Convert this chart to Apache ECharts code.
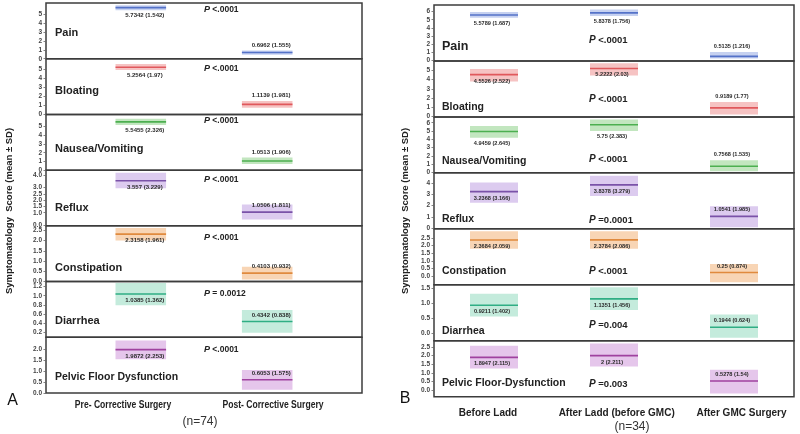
<!DOCTYPE html>
<html><head><meta charset="utf-8">
<script src="https://cdn.jsdelivr.net/npm/echarts@6/dist/echarts.min.js"></script>
<style>html,body{margin:0;padding:0;background:#fff}#c{width:800px;height:434px}</style>
</head><body><div id="c"></div>
<script>
// ---------- Panel A data ----------
const symptomsA = ['Pain','Bloating','Nausea/Vomiting','Reflux','Constipation','Diarrhea','Pelvic Floor Dysfunction'];
const groupsA = ['Pre- Corrective Surgery','Post- Corrective Surgery'];
const nLabelA = '(n=74)';
const preMeanA = [5.7342, 5.2564, 5.5455, 3.557, 2.3158, 1.0385, 1.9872];
const preSdA   = [1.542, 1.97, 2.326, 3.229, 1.961, 1.362, 2.253];
const preLowA  = [5.45, 4.95, 5.2, 2.95, 2.0, 0.79, 1.55];
const preHighA = [6.0, 5.6, 5.9, 4.2, 2.62, 1.28, 2.4];
const postMeanA = [0.6962, 1.1139, 1.0513, 1.0506, 0.4103, 0.4342, 0.6053];
const postSdA   = [1.555, 1.981, 1.906, 1.811, 0.932, 0.838, 1.575];
const postLowA  = [0.45, 0.75, 0.7, 0.45, 0.1, 0.19, 0.15];
const postHighA = [0.93, 1.5, 1.45, 1.65, 0.72, 0.69, 1.05];
const pValueA = ['<.0001','<.0001','<.0001','<.0001','<.0001','= 0.0012','<.0001'];
const yMinA = [0, 0, 0, -0.05, 0, 0.09, 0];
const yMaxA = [6.25, 6.2, 6.4, 4.4, 2.72, 1.31, 2.55];
const yTicksA = [
  [0,1,2,3,4,5],[0,1,2,3,4,5],[0,1,2,3,4,5],
  [0,0.5,1,1.5,2,2.5,3,3.5,4],[0,0.5,1,1.5,2,2.5],
  [0.2,0.4,0.6,0.8,1.0,1.2],[0,0.5,1,1.5,2]
];

// ---------- Panel B data ----------
const symptomsB = ['Pain','Bloating','Nausea/Vomiting','Reflux','Constipation','Diarrhea','Pelvic Floor-Dysfunction'];
const groupsB = ['Before Ladd','After Ladd (before GMC)','After GMC Surgery'];
const nLabelB = '(n=34)';
const blMeanB = [5.5789, 4.5526, 4.9459, 3.2368, 2.3684, 0.9211, 1.8947];
const blSdB   = [1.687, 2.522, 2.645, 3.166, 2.059, 1.402, 2.115];
const blLowB  = [5.25, 3.8, 4.2, 2.25, 1.8, 0.55, 1.25];
const blHighB = [5.95, 5.15, 5.6, 4.05, 2.95, 1.3, 2.57];
const alMeanB = [5.8378, 5.2222, 5.75, 3.8378, 2.3784, 1.1351, 2];
const alSdB   = [1.756, 2.03, 2.383, 3.279, 2.086, 1.456, 2.211];
const alLowB  = [5.45, 4.45, 5.0, 2.85, 1.8, 0.77, 1.37];
const alHighB = [6.25, 5.8, 6.4, 4.65, 2.95, 1.52, 2.7];
const gmMeanB = [0.5135, 0.9189, 0.7568, 1.0541, 0.25, 0.1944, 0.5278];
const gmSdB   = [1.216, 1.77, 1.535, 1.985, 0.874, 0.624, 1.54];
const gmLowB  = [0.25, 0.2, 0.15, 0.1, -0.38, -0.15, -0.19];
const gmHighB = [1.05, 1.55, 1.48, 1.95, 0.8, 0.62, 1.18];
const pValueB = ['<.0001','<.0001','<.0001','=0.0001','<.0001','=0.004','=0.003'];
const yMinB = [-0.05, -0.07, -0.04, -0.05, -0.55, -0.25, -0.38];
const yMaxB = [6.8, 6.04, 6.7, 4.9, 3.1, 1.6, 2.86];
const yTicksB = [
  [0,1,2,3,4,5,6],[0,1,2,3,4,5],[0,1,2,3,4,5,6],[0,1,2,3,4],
  [0,0.5,1,1.5,2,2.5],[0,0.5,1,1.5],[0,0.5,1,1.5,2,2.5]
];

// ---------- styles ----------
const lineColors = ['#5472c8','#e0585c','#4caf50','#7a52a8','#e08a3e','#2fae84','#9f429f'];
const bandColors = ['#c6d1f0','#f6c3c3','#c2e6bf','#dccbef','#f8d5b5','#c4ebdc','#e5c6eb'];
const FONT = "'Liberation Sans', Arial, sans-serif";

const grids = [], xAxes = [], yAxes = [], series = [], graphics = [];

function txt(x, y, text, size, opts) {
  opts = opts || {};
  const st = {text, x: 0, y: 0, fontSize: size, fontWeight: opts.weight || 'bold', fontFamily: opts.family || FONT,
    fill: opts.fill || '#222', align: opts.align || 'left', verticalAlign: 'middle'};
  if (opts.rich) st.rich = opts.rich;
  graphics.push({type: 'text', x, y, rotation: opts.rot || 0, scaleX: opts.sx || 1, silent: true, style: st});
}

function buildPanel(cfg) {
  const rowH = (cfg.bottom - cfg.top) / 7;
  for (let i = 0; i < 7; i++) {
    const k = grids.length;
    grids.push({left: cfg.left, top: cfg.top + i * rowH, width: cfg.width, height: rowH,
      show: true, borderColor: '#3c3c3c', borderWidth: 1.5, backgroundColor: 'transparent'});
    xAxes.push({type: 'category', gridIndex: k, data: cfg.slots, boundaryGap: true,
      axisLine: {show: false}, axisTick: {show: false}, axisLabel: {show: false}, splitLine: {show: false}});
    const ticks = cfg.ticks[i];
    const dec = ticks.some(v => v % 1 !== 0) ? 1 : 0;
    yAxes.push({type: 'value', gridIndex: k, min: cfg.yMin[i], max: cfg.yMax[i],
      axisLine: {show: false}, splitLine: {show: false},
      axisTick: {show: true, length: 2.5, customValues: ticks, lineStyle: {color: '#666', width: 0.8}},
      axisLabel: {customValues: ticks, fontSize: cfg.tickFont, fontWeight: 'bold', color: '#444', margin: 4,
        showMinLabel: true, showMaxLabel: true, hideOverlap: false,
        fontFamily: FONT, formatter: v => Number(v).toFixed(dec)}});
    const data = cfg.groups.map((g, j) => [cfg.slotIdx[j], g.mean[i], g.low[i], g.high[i], g.sd[i], j]);
    const nG = cfg.groups.length;
    series.push({type: 'custom', xAxisIndex: k, yAxisIndex: k, clip: true, silent: true, animation: false,
      data,
      renderItem: (params, api) => {
        const xv = api.value(0), mean = api.value(1), lo = api.value(2), hi = api.value(3), sd = api.value(4), j = api.value(5);
        const c = api.coord([xv, mean]);
        const cl = api.coord([xv, lo]);
        const ch = api.coord([xv, hi]);
        const w = api.size([1, 0])[0] * cfg.barRatio;
        const above = j === nG - 1;
        let ty;
        if (above) {
          const d = c[1] - ch[1];
          ty = d > 6.3 ? c[1] - 6.5 : ch[1] - 5.5;
        } else {
          const d = cl[1] - c[1];
          ty = d > 6.3 ? c[1] + 6.5 : cl[1] + 5.5;
        }
        return {type: 'group', children: [
          {type: 'rect', shape: {x: c[0] - w / 2, y: ch[1], width: w, height: cl[1] - ch[1]},
            style: {fill: bandColors[i]}},
          {type: 'line', shape: {x1: c[0] - w / 2, y1: c[1], x2: c[0] + w / 2, y2: c[1]},
            style: {stroke: lineColors[i], lineWidth: 1.6}},
          {type: 'text', x: c[0] + cfg.labelDx, y: ty, style: {text: mean + ' (' + sd + ')', fontSize: cfg.labelFont,
            fontWeight: 'bold', fontFamily: FONT, fill: '#2a2a2a', align: 'center', verticalAlign: 'middle'}}
        ]};
      }});
    txt(cfg.rowLabelX, cfg.rowLabelY[i], cfg.symptoms[i], cfg.rowFont[i]);
    txt(cfg.pX, cfg.pY[i], '{p|P} ' + cfg.pValues[i], cfg.pFont, {
      rich: {p: {fontStyle: 'italic', fontWeight: 'bold', fontSize: cfg.pFont + 0.5, fontFamily: FONT, fill: '#222'}}});
  }
}

buildPanel({
  left: 46, width: 316, top: 3, bottom: 393,
  slots: ['', groupsA[0], '', groupsA[1], ''], slotIdx: [1, 3], barRatio: 0.8,
  groups: [
    {mean: preMeanA, sd: preSdA, low: preLowA, high: preHighA},
    {mean: postMeanA, sd: postSdA, low: postLowA, high: postHighA}
  ],
  yMin: yMinA, yMax: yMaxA, ticks: yTicksA, tickFont: 6.5, labelFont: 6, labelDx: 4,
  symptoms: symptomsA, rowLabelX: 55,
  rowLabelY: [33.3, 90.7, 149, 208.3, 267.7, 321, 377.3],
  rowFont: [11, 11, 11, 11, 11, 11, 10.5],
  pValues: pValueA, pX: 204, pY: [9.5, 68.3, 121, 179.3, 237.7, 293.3, 349.3], pFont: 8.5
});

buildPanel({
  left: 434, width: 360, top: 5, bottom: 396.7,
  slots: groupsB, slotIdx: [0, 1, 2], barRatio: 0.4,
  groups: [
    {mean: blMeanB, sd: blSdB, low: blLowB, high: blHighB},
    {mean: alMeanB, sd: alSdB, low: alLowB, high: alHighB},
    {mean: gmMeanB, sd: gmSdB, low: gmLowB, high: gmHighB}
  ],
  yMin: yMinB, yMax: yMaxB, ticks: yTicksB, tickFont: 6.5, labelFont: 5.6, labelDx: -2,
  symptoms: symptomsB, rowLabelX: 442,
  rowLabelY: [46.7, 107.3, 161, 219.3, 271, 330.7, 383.3],
  rowFont: [12.5, 10.5, 10.5, 10.5, 10.5, 10.5, 10.5],
  pValues: pValueB, pX: 589, pY: [40.3, 99, 159.3, 220, 271, 325, 384], pFont: 9.5
});

const yTitle = 'Symptomatology  Score (mean ± SD)';
txt(9, 211, yTitle, 9.5, {rot: Math.PI / 2, align: 'center'});
txt(405, 211, yTitle, 9.5, {rot: Math.PI / 2, align: 'center'});
txt(123, 405, groupsA[0], 11, {align: 'center', sx: 0.78});
txt(273, 405, groupsA[1], 11, {align: 'center', sx: 0.78});
txt(200, 421.7, nLabelA, 12, {align: 'center', weight: 'normal', fill: '#333'});
txt(12.5, 401, 'A', 16, {align: 'center', weight: 'normal', fill: '#111'});
txt(488, 413.3, groupsB[0], 10, {align: 'center'});
txt(616.7, 413.3, groupsB[1], 10, {align: 'center'});
txt(741.5, 413.3, groupsB[2], 10, {align: 'center'});
txt(632, 426.7, nLabelB, 12, {align: 'center', weight: 'normal', fill: '#333'});
txt(405, 399, 'B', 16, {align: 'center', weight: 'normal', fill: '#111'});

const chart = echarts.init(document.getElementById('c'), null, {renderer: 'canvas'});
chart.setOption({
  animation: false,
  backgroundColor: '#fff',
  grid: grids, xAxis: xAxes, yAxis: yAxes, series,
  graphic: graphics
});
</script>
</body></html>
